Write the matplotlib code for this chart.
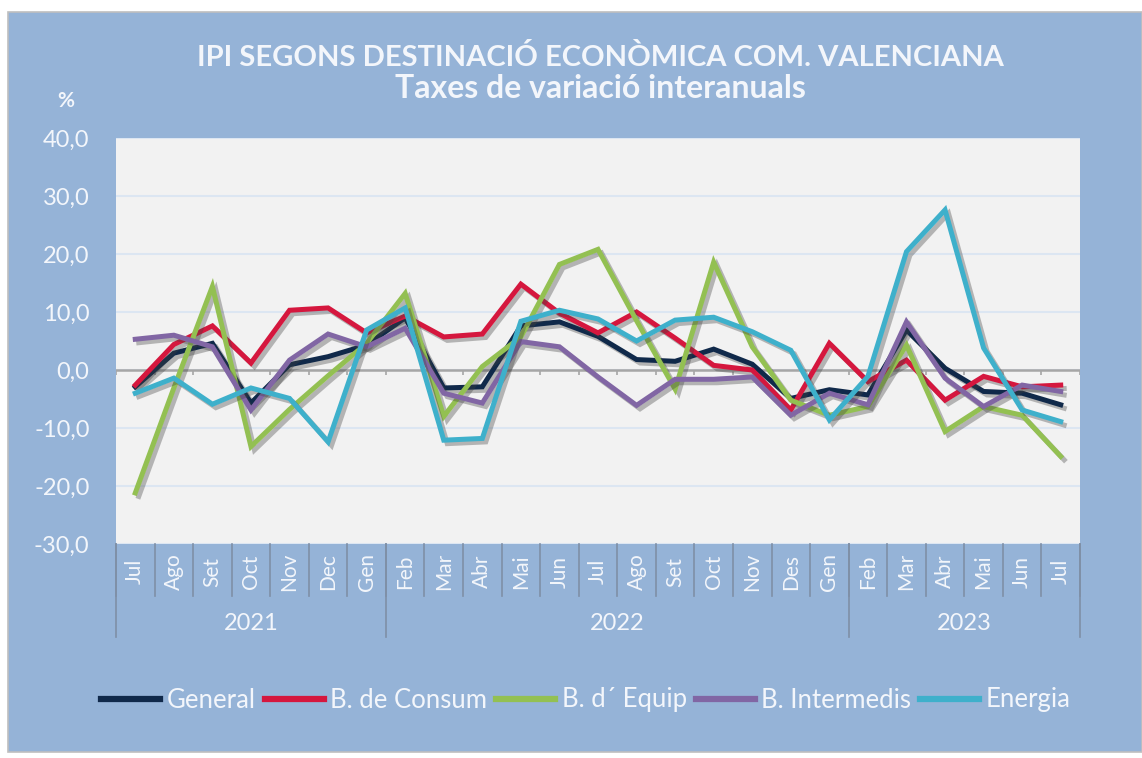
import matplotlib
matplotlib.use("Agg")
import matplotlib.pyplot as plt
import matplotlib.patheffects as pe
from matplotlib.patches import Rectangle
import matplotlib.transforms as mtransforms

months = ["Jul", "Ago", "Set", "Oct", "Nov", "Dec", "Gen", "Feb", "Mar", "Abr", "Mai", "Jun",
          "Jul", "Ago", "Set", "Oct", "Nov", "Des", "Gen", "Feb", "Mar", "Abr", "Mai", "Jun", "Jul"]
years = ["2021", "2022", "2023"]
year_sizes = [7, 12, 6]

general = [-2.9, 2.9, 4.6, -5.7, 0.9, 2.3, 4.3, 9.0, -3.1, -2.9, 7.6, 8.3, 5.8, 1.8, 1.5, 3.6, 1.0,
           -4.9, -3.4, -4.3, 6.9, 0.3, -3.7, -4.0, -6.0]
consum = [-2.6, 4.4, 7.6, 1.2, 10.3, 10.7, 6.4, 9.3, 5.7, 6.2, 14.8, 9.8, 6.4, 10.0, 5.5, 0.8, 0.0,
          -6.9, 4.6, -2.0, 1.7, -5.2, -1.1, -2.9, -2.6]
equip = [-21.2, -3.1, 14.4, -13.2, -6.8, -1.0, 4.6, 13.2, -8.0, 0.6, 5.7, 18.2, 20.8, 8.5, -3.3,
         18.6, 4.0, -5.2, -7.8, -6.3, 4.3, -10.6, -6.3, -7.8, -14.9]
intermedis = [5.3, 6.0, 4.0, -6.9, 1.7, 6.2, 4.0, 7.2, -4.0, -5.7, 4.9, 4.0, -1.2, -6.1, -1.6,
              -1.6, -1.2, -7.8, -4.0, -6.0, 8.3, -1.4, -6.3, -2.6, -3.7]
energia = [-4.0, -1.4, -5.9, -3.1, -4.9, -12.4, 6.9, 10.7, -12.1, -11.8, 8.4, 10.3, 8.8, 5.0, 8.6,
           9.1, 6.6, 3.4, -8.6, -1.1, 20.4, 27.6, 3.8, -6.9, -8.9]

series = [("General", general, "#10294A"),
          ("B. de Consum", consum, "#D5173E"),
          ("B. d\u00b4 Equip", equip, "#93C052"),
          ("B. Intermedis", intermedis, "#8166A4"),
          ("Energia", energia, "#3EB0CB")]

W, H = 1142, 758
fig = plt.figure(figsize=(W / 100, H / 100), dpi=100, facecolor="white")
plt.rcParams['font.family'] = ['Lato', 'DejaVu Sans']
txt = "#F3F6FB"
bg = "#95B3D7"

fig.patches.append(Rectangle((8 / W, 6 / H), (W - 8) / W, (H - 18) / H, transform=fig.transFigure,
                             facecolor=bg, edgecolor="#BFBFBF", linewidth=1.2, zorder=-10))

L, R, T, B = 116, 1080, 138, 544
ax = fig.add_axes([L / W, 1 - B / H, (R - L) / W, (B - T) / H])
ax.set_facecolor("#F2F2F2")
x = list(range(len(months)))
ax.set_xlim(-0.5, len(months) - 0.5)
ax.set_ylim(-30, 40)
yt = list(range(-30, 41, 10))
ax.set_yticks(yt)
ax.set_yticklabels([f"{v:.1f}".replace(".", ",") for v in yt], color=txt, fontsize=17)
ax.tick_params(axis="y", length=0, pad=19)
ax.grid(axis="y", color="#DCE6F2", linewidth=1.5, zorder=0)
ax.set_axisbelow(True)
for s in ax.spines.values():
    s.set_visible(False)

ax.set_xticks(x)
ax.set_xticklabels(months, rotation=90, color=txt, fontsize=15, va="center")
ax.tick_params(axis="x", length=0, pad=20)

ax.axhline(0, color="#A6A6A6", linewidth=1.8, zorder=2)
bounds = [i - 0.5 for i in range(len(months) + 1)]
ax.vlines(bounds, -0.9, 0, color="#A6A6A6", linewidth=1.2, zorder=2)

for name, vals, col in series:
    ax.plot(x, vals, color=col, linewidth=3.6, label=name, zorder=3, solid_joinstyle="miter",
            path_effects=[pe.SimpleLineShadow(offset=(2.5, -2.5), alpha=0.35, shadow_color="#404040"),
                          pe.Normal()])

trans = mtransforms.blended_transform_factory(ax.transData, ax.transAxes)
ph = B - T
sep_col = "#7F8FA6"
for b in bounds:
    ax.plot([b, b], [0, -52 / ph], color=sep_col, linewidth=1.2, transform=trans, clip_on=False)
cum = [-0.5]
for n in year_sizes:
    cum.append(cum[-1] + n)
for b in cum:
    ax.plot([b, b], [0, -93 / ph], color=sep_col, linewidth=1.2, transform=trans, clip_on=False)
for i, yr in enumerate(years):
    ax.text((cum[i] + cum[i + 1]) / 2, -79 / ph, yr, transform=trans, ha="center", va="center",
            color=txt, fontsize=17)

fig.text(600 / W, 1 - 57 / H, "IPI SEGONS DESTINACIÓ ECONÒMICA COM. VALENCIANA", ha="center",
         va="center", color=txt, fontsize=21, fontweight="bold")
fig.text(600 / W, 1 - 88 / H, "Taxes de variació interanuals", ha="center", va="center",
         color=txt, fontsize=23, fontweight="bold")
fig.text(66 / W, 1 - 101 / H, "%", ha="center", va="center", color=txt, fontsize=15, fontweight="bold")

leg = fig.legend(loc="center", bbox_to_anchor=(586 / W, 1 - 700 / H), ncol=5, frameon=False,
                 fontsize=18.5, handlelength=2.3, handletextpad=0.25, columnspacing=0.35,
                 labelcolor=txt)
for h in leg.legend_handles:
    h.set_linewidth(4.5)
    h.set_path_effects([])

fig.savefig("out.png", dpi=100, facecolor=fig.get_facecolor())
